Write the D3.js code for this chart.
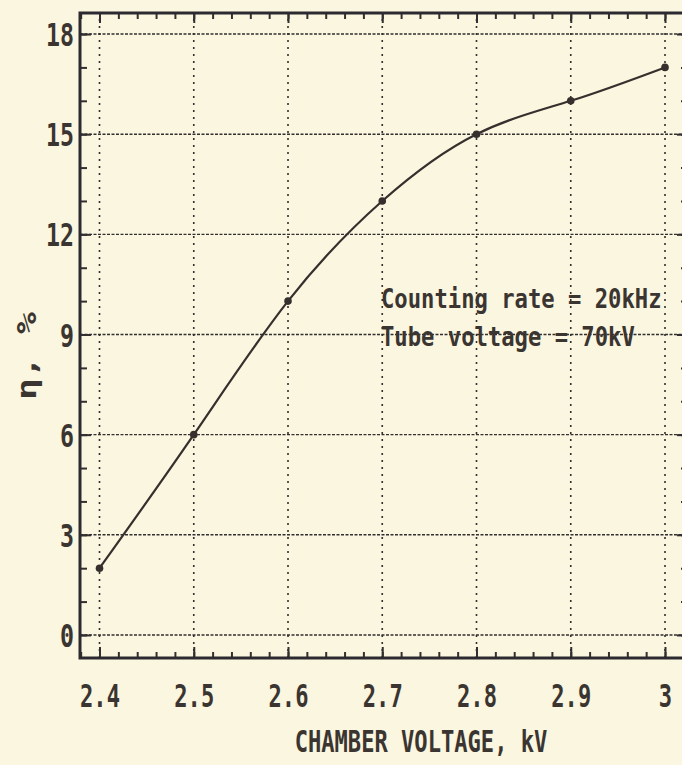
<!DOCTYPE html>
<html>
<head>
<meta charset="utf-8">
<script src="https://cdn.jsdelivr.net/npm/d3@7"></script>
<style>
  html, body { margin: 0; padding: 0; background: #faf6df; }
  svg { display: block; }
  text { font-family: "DejaVu Sans Mono", "Liberation Mono", monospace; font-weight: bold; fill: #3b3531; }
</style>
</head>
<body>
<svg id="chart" width="682" height="765"></svg>
<script>
// chamber voltage (kV) vs efficiency (%)
var voltage = [2.4, 2.5, 2.6, 2.7, 2.8, 2.9, 3.0];
var efficiency = [2, 6, 10, 13, 15, 16, 17];

var xTicks = [2.4, 2.5, 2.6, 2.7, 2.8, 2.9, 3.0];
var xTickLabels = ['2.4', '2.5', '2.6', '2.7', '2.8', '2.9', '3'];
var yTicks = [0, 3, 6, 9, 12, 15, 18];
var yTickLabels = ['0', '3', '6', '9', '12', '15', '18'];

var annotation = ['Counting rate = 20kHz', 'Tube voltage = 70kV'];
var xTitle = 'CHAMBER VOLTAGE, kV';
var yTitle = 'η, %';

var ink = '#332f30';

function Chart(){}

Chart.prototype.setup = function(svg_id){
    this.svg = d3.select('#'+svg_id);

    // frame edges in px
    this.left = 80; this.right = 688; this.top = 13; this.bottom = 658;

    this.x = d3.scaleLinear().domain([2.3793, 3.0244]).range([this.left, this.right]);
    this.y = d3.scaleLinear().domain([-0.69, 18.63]).range([this.bottom, this.top]);

    this.grid();
    this.axes();
    this.curve();
    this.labels();
}

// stretch monospace text to the narrow printer look
function squeeze(sel, perChar){
    sel.each(function(){
        var t = d3.select(this);
        t.attr('textLength', t.text().length*perChar).attr('lengthAdjust', 'spacingAndGlyphs');
    });
}

Chart.prototype.grid = function(){
    var x = this.x, y = this.y;
    var g = this.svg.append('g');

    g.selectAll('.vgrid').data(xTicks).enter().append('line')
        .attr('x1', function(d){ return x(d); }).attr('x2', function(d){ return x(d); })
        .attr('y1', this.top + 6).attr('y2', this.bottom)
        .attr('stroke', ink).attr('stroke-width', 1.6)
        .attr('stroke-dasharray', '2,5');

    g.selectAll('.hgrid').data(yTicks).enter().append('line')
        .attr('x1', this.left).attr('x2', this.right)
        .attr('y1', function(d){ return y(d); }).attr('y2', function(d){ return y(d); })
        .attr('stroke', ink).attr('stroke-width', 1.4)
        .attr('stroke-dasharray', '3,1.5');
}

Chart.prototype.axes = function(){
    var x = this.x, y = this.y;
    var xMinor = d3.range(2.38, 3.03, 0.02);
    var yMinor = d3.range(0, 19, 1);
    var none = function(){ return ''; };

    var mk = function(g){
        g.select('.domain').remove();
        g.selectAll('line').attr('stroke', ink).attr('stroke-width', 2);
    };

    // top & bottom, ticks inward
    this.svg.append('g').attr('transform', 'translate(0,' + this.top + ')')
        .call(d3.axisTop(x).tickValues(xMinor).tickSize(-6).tickFormat(none)).call(mk);
    this.svg.append('g').attr('transform', 'translate(0,' + this.top + ')')
        .call(d3.axisTop(x).tickValues(xTicks).tickSize(-10).tickFormat(none)).call(mk);
    this.svg.append('g').attr('transform', 'translate(0,' + this.bottom + ')')
        .call(d3.axisBottom(x).tickValues(xMinor).tickSize(-6).tickFormat(none)).call(mk);

    var xb = this.svg.append('g').attr('transform', 'translate(0,' + this.bottom + ')')
        .call(d3.axisBottom(x).tickValues(xTicks).tickSize(-11)
            .tickFormat(function(d, i){ return xTickLabels[i]; }))
        .call(mk);
    xb.selectAll('text').attr('y', 49).attr('dy', 0)
        .style('font-size', '32px').attr('fill', '#3b3531').call(squeeze, 13.3);

    // left & right
    this.svg.append('g').attr('transform', 'translate(' + this.left + ',0)')
        .call(d3.axisLeft(y).tickValues(yMinor).tickSize(-7).tickFormat(none)).call(mk);
    var yl = this.svg.append('g').attr('transform', 'translate(' + this.left + ',0)')
        .call(d3.axisLeft(y).tickValues(yTicks).tickSize(-11)
            .tickFormat(function(d, i){ return yTickLabels[i]; }))
        .call(mk);
    yl.selectAll('text').attr('x', -6).attr('dy', '0.36em')
        .style('font-size', '32px').attr('fill', '#3b3531').call(squeeze, 14);

    this.svg.append('g').attr('transform', 'translate(' + this.right + ',0)')
        .call(d3.axisRight(y).tickValues(yMinor).tickSize(-7).tickFormat(none)).call(mk);
    this.svg.append('g').attr('transform', 'translate(' + this.right + ',0)')
        .call(d3.axisRight(y).tickValues(yTicks).tickSize(-11).tickFormat(none)).call(mk);

    // frame
    this.svg.append('rect')
        .attr('x', this.left).attr('y', this.top)
        .attr('width', this.right - this.left).attr('height', this.bottom - this.top)
        .attr('fill', 'none').attr('stroke', '#2c2a30').attr('stroke-width', 3);
}

Chart.prototype.curve = function(){
    var x = this.x, y = this.y;
    var pts = voltage.map(function(v, i){ return [v, efficiency[i]]; });

    var line = d3.line()
        .x(function(d){ return x(d[0]); })
        .y(function(d){ return y(d[1]); })
        .curve(d3.curveNatural);

    this.svg.append('path').datum(pts)
        .attr('d', line).attr('fill', 'none')
        .attr('stroke', '#35302e').attr('stroke-width', 2.2);

    this.svg.selectAll('.pt').data(pts).enter().append('circle')
        .attr('cx', function(d){ return x(d[0]); })
        .attr('cy', function(d){ return y(d[1]); })
        .attr('r', 3.8).attr('fill', '#35302e');
}

Chart.prototype.labels = function(){
    // narrow font size, stretched vertically
    this.svg.selectAll('.note').data(annotation).enter().append('text')
        .attr('transform', function(d, i){ return 'translate(381,' + (308 + i*38) + ') scale(1,1.18)'; })
        .style('font-size', '22.2px')
        .text(function(d){ return d; });

    this.svg.append('text')
        .attr('x', 421).attr('y', 752).attr('text-anchor', 'middle')
        .style('font-size', '30px')
        .text(xTitle).call(squeeze, 13.3);

    this.svg.append('text')
        .attr('transform', 'translate(36,356) rotate(-90)')
        .attr('text-anchor', 'middle')
        .style('font-size', '26px')
        .text(yTitle).call(squeeze, 22);
}

var chart = new Chart();
chart.setup('chart');
</script>
</body>
</html>
